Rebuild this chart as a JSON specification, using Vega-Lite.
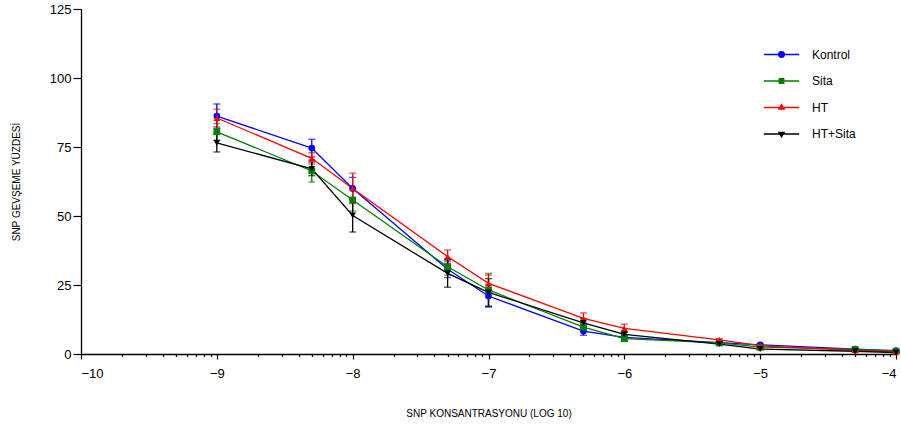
{
  "$schema": "https://vega.github.io/schema/vega-lite/v6.json",
  "autosize": "none",
  "width": 815,
  "height": 345,
  "padding": {"left": 81, "top": 9, "right": 5, "bottom": 73},
  "background": "white",
  "config": {
    "view": {"stroke": null},
    "font": "Liberation Sans",
    "axis": {"grid": false, "domainColor": "#000", "tickColor": "#000", "labelColor": "#000", "titleColor": "#000", "labelFont": "Liberation Sans", "titleFont": "Liberation Sans", "titleFontWeight": "normal", "domainWidth": 1.3, "tickWidth": 1.2},
    "legend": {
      "title": null, "orient": "none", "legendX": 682, "legendY": 27,
      "labelFontSize": 12, "labelColor": "#000", "rowPadding": 1.5, "labelOffset": 12,
      "symbolSize": 1250, "symbolStrokeWidth": 1.3
    }
  },
  "data": {
    "values": [
      {"group": "Kontrol", "logc": -9, "mean": 86.2, "sem": 4.4},
      {"group": "Kontrol", "logc": -8.301, "mean": 74.6, "sem": 3.2},
      {"group": "Kontrol", "logc": -8, "mean": 60.0, "sem": 4},
      {"group": "Kontrol", "logc": -7.301, "mean": 30.7, "sem": 3},
      {"group": "Kontrol", "logc": -7, "mean": 21.0, "sem": 4},
      {"group": "Kontrol", "logc": -6.301, "mean": 8.3, "sem": 1.5},
      {"group": "Kontrol", "logc": -6, "mean": 6.0, "sem": 1},
      {"group": "Kontrol", "logc": -5.301, "mean": 4.1, "sem": 0.5},
      {"group": "Kontrol", "logc": -5, "mean": 3.3, "sem": 0.5},
      {"group": "Kontrol", "logc": -4.301, "mean": 1.8, "sem": 0.3},
      {"group": "Kontrol", "logc": -4, "mean": 1.2, "sem": 0.3},
      {"group": "Sita", "logc": -9, "mean": 80.5, "sem": 3},
      {"group": "Sita", "logc": -8.301, "mean": 66.3, "sem": 4},
      {"group": "Sita", "logc": -8, "mean": 55.8, "sem": 4},
      {"group": "Sita", "logc": -7.301, "mean": 31.6, "sem": 3},
      {"group": "Sita", "logc": -7, "mean": 23.2, "sem": 6},
      {"group": "Sita", "logc": -6.301, "mean": 9.7, "sem": 1.5},
      {"group": "Sita", "logc": -6, "mean": 5.6, "sem": 1},
      {"group": "Sita", "logc": -5.301, "mean": 4.0, "sem": 0.5},
      {"group": "Sita", "logc": -5, "mean": 2.5, "sem": 0.4},
      {"group": "Sita", "logc": -4.301, "mean": 1.7, "sem": 0.3},
      {"group": "Sita", "logc": -4, "mean": 1.0, "sem": 0.3},
      {"group": "HT", "logc": -9, "mean": 85.5, "sem": 3.2},
      {"group": "HT", "logc": -8.301, "mean": 70.9, "sem": 2},
      {"group": "HT", "logc": -8, "mean": 60.0, "sem": 5.5},
      {"group": "HT", "logc": -7.301, "mean": 35.3, "sem": 2.4},
      {"group": "HT", "logc": -7, "mean": 25.6, "sem": 3},
      {"group": "HT", "logc": -6.301, "mean": 12.9, "sem": 2},
      {"group": "HT", "logc": -6, "mean": 9.3, "sem": 1.5},
      {"group": "HT", "logc": -5.301, "mean": 5.1, "sem": 0.5},
      {"group": "HT", "logc": -5, "mean": 3.0, "sem": 0.4},
      {"group": "HT", "logc": -4.301, "mean": 1.3, "sem": 0.3},
      {"group": "HT", "logc": -4, "mean": 0.8, "sem": 0.2},
      {"group": "HT+Sita", "logc": -9, "mean": 76.5, "sem": 3.3},
      {"group": "HT+Sita", "logc": -8.301, "mean": 67.1, "sem": 2.5},
      {"group": "HT+Sita", "logc": -8, "mean": 50.2, "sem": 6},
      {"group": "HT+Sita", "logc": -7.301, "mean": 29.2, "sem": 5},
      {"group": "HT+Sita", "logc": -7, "mean": 22.3, "sem": 5},
      {"group": "HT+Sita", "logc": -6.301, "mean": 11.3, "sem": 1.5},
      {"group": "HT+Sita", "logc": -6, "mean": 7.1, "sem": 1},
      {"group": "HT+Sita", "logc": -5.301, "mean": 3.6, "sem": 0.5},
      {"group": "HT+Sita", "logc": -5, "mean": 1.8, "sem": 0.3},
      {"group": "HT+Sita", "logc": -4.301, "mean": 1.0, "sem": 0.2},
      {"group": "HT+Sita", "logc": -4, "mean": 0.5, "sem": 0.2}
    ]
  },
  "encoding": {
    "x": {
      "field": "logc", "type": "quantitative",
      "scale": {"domain": [-10, -4], "nice": false},
      "axis": {
        "title": "SNP KONSANTRASYONU (LOG 10)",
        "titleFontSize": 10, "titlePadding": 28,
        "values": [-10, -9.69897, -9.52288, -9.39794, -9.30103, -9.22185, -9.1549, -9.09691, -9.04576,
                   -9, -8.69897, -8.52288, -8.39794, -8.30103, -8.22185, -8.1549, -8.09691, -8.04576,
                   -8, -7.69897, -7.52288, -7.39794, -7.30103, -7.22185, -7.1549, -7.09691, -7.04576,
                   -7, -6.69897, -6.52288, -6.39794, -6.30103, -6.22185, -6.1549, -6.09691, -6.04576,
                   -6, -5.69897, -5.52288, -5.39794, -5.30103, -5.22185, -5.1549, -5.09691, -5.04576,
                   -5, -4.69897, -4.52288, -4.39794, -4.30103, -4.22185, -4.1549, -4.09691, -4.04576, -4],
        "labelExpr": "datum.value % 1 === 0 ? format(datum.value, 'd') : ''",
        "labelOverlap": false,
        "labelFontSize": 13,
        "labelPadding": 8,
        "tickSize": {"condition": {"test": "datum.value % 1 === 0", "value": 5}, "value": 2.5}
      }
    },
    "color": {"field": "group", "type": "nominal",
              "scale": {"domain": ["Kontrol", "Sita", "HT", "HT+Sita"], "range": ["#0000ff", "#008000", "#ff0000", "#000000"]},
              "legend": {
                "encode": {"symbols": {"update": {
                  "shape": {"signal": "datum.value === 'Kontrol' ? 'M-1,0H1M-0.16,0A0.16,0.16 0 1 0 0.16,0A0.16,0.16 0 1 0 -0.16,0Z' : datum.value === 'Sita' ? 'M-1,0H1M-0.13,-0.13H0.13V0.13H-0.13Z' : datum.value === 'HT' ? 'M-1,0H1M0,-0.17L0.15,0.09H-0.15Z' : 'M-1,0H1M0,0.17L0.15,-0.09H-0.15Z'"},
                  "fill": {"signal": "scale('color', datum.value)"},
                  "stroke": {"signal": "scale('color', datum.value)"},
                  "opacity": {"value": 1}
                }}}
              }}
  },
  "layer": [
    {
      "mark": {"type": "errorbar", "ticks": true, "size": 7, "thickness": 1.3},
      "encoding": {
        "y": {"field": "mean", "type": "quantitative", "scale": {"domain": [0, 125], "nice": false},
              "axis": {"title": "SNP GEVŞEME YÜZDESİ", "values": [0, 25, 50, 75, 100, 125], "labelFontSize": 13, "tickSize": 8, "titleFontSize": 10, "titlePadding": 28}},
        "yError": {"field": "sem"}
      }
    },
    {
      "mark": {"type": "line", "strokeWidth": 1.3},
      "encoding": {
        "y": {"field": "mean", "type": "quantitative"}
      }
    },
    {
      "mark": {"type": "point", "filled": true, "opacity": 1, "size": 45},
      "encoding": {
        "y": {"field": "mean", "type": "quantitative"},
        "shape": {"field": "group", "type": "nominal", "legend": null,
                  "scale": {"domain": ["HT", "HT+Sita", "Kontrol", "Sita"], "range": ["triangle-up", "triangle-down", "circle", "square"]}}
      }
    }
  ]
}
